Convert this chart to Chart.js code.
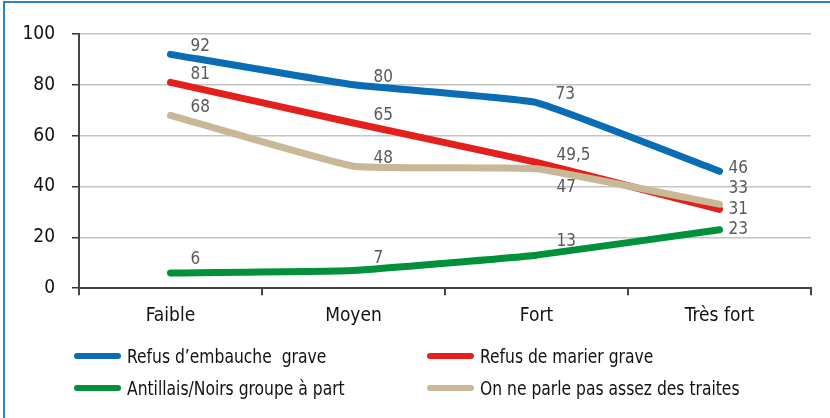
<!DOCTYPE html>
<html>
<head>
<meta charset="utf-8">
<script src="https://cdn.jsdelivr.net/npm/chart.js@4/dist/chart.umd.min.js"></script>
<style>
  html, body { margin: 0; padding: 0; background: #fff; }
  #wrap { position: relative; width: 830px; height: 418px; overflow: hidden; }
  #frame { position: absolute; left: 3px; top: 1px; width: 840px; height: 430px;
           border-top: 2px solid #2b84c6; border-left: 2px solid #2b84c6; }
  canvas { position: absolute; left: 0; top: 0; }
  .leg { position: absolute; font-family: 'DejaVu Sans Condensed', 'Roboto', sans-serif;
         font-size: 19px; color: #111; line-height: 22px; white-space: pre; }
  .leg i { position: absolute; top: 8px; height: 6px; width: 47px; border-radius: 3px; }
  .leg span { display: inline-block; margin-left: 53px; transform: scaleX(0.91); transform-origin: left center; }
</style>
</head>
<body>
<div id="wrap">
  <div id="frame"></div>
  <canvas id="chart" width="830" height="418"></canvas>
  <div id="legend"></div>
</div>
<script>
const categories = ['Faible', 'Moyen', 'Fort', 'Très fort'];
const embauche = [92, 80, 73, 46];
const marier = [81, 65, 49.5, 31];
const antillais = [6, 7, 13, 23];
const traites = [68, 48, 47, 33];
const yTicks = [0, 20, 40, 60, 80, 100];

const FONT = "'DejaVu Sans Condensed', 'Roboto', sans-serif";

// label offsets relative to each point (dx, dy)
const series = [
  { label: 'Refus d\u2019embauche  grave', data: embauche, color: '#0a6cb5', order: 0,
    shift: [[20, -8], [20, -7], [19, -8], [9, -3]] },
  { label: 'Refus de marier grave', data: marier, color: '#e3201b', order: 2,
    shift: [[20, -8], [20, -7], [20, -7], [9, 0]] },
  { label: 'Antillais/Noirs groupe à part', data: antillais, color: '#00913a', order: 3,
    shift: [[20, -13], [20, -12], [20, -14], [9, 0]] },
  { label: 'On ne parle pas assez des traites', data: traites, color: '#c8b898', order: 1,
    shift: [[20, -8], [20, -8], [20, 19], [9, -16]] }
];

const valueLabels = {
  id: 'valueLabels',
  afterDatasetsDraw(chart) {
    const ctx = chart.ctx;
    ctx.save();
    ctx.font = '17px ' + FONT;
    ctx.fillStyle = '#595959';
    ctx.textAlign = 'left';
    ctx.textBaseline = 'middle';
    chart.data.datasets.forEach((ds, di) => {
      const meta = chart.getDatasetMeta(di);
      meta.data.forEach((pt, i) => {
        const [dx, dy] = series[di].shift[i];
        ctx.fillText(String(ds.data[i]).replace('.', ','), pt.x + dx, pt.y + dy);
      });
    });
    ctx.restore();
  }
};

new Chart(document.getElementById('chart'), {
  type: 'line',
  data: {
    labels: categories,
    datasets: series.map(s => ({
      label: s.label,
      data: s.data,
      borderColor: s.color,
      backgroundColor: s.color,
      borderWidth: 7,
      borderCapStyle: 'round',
      borderJoinStyle: 'round',
      pointRadius: 0,
      tension: 0.1,
      order: s.order
    }))
  },
  options: {
    responsive: false,
    animation: false,
    layout: { padding: { left: 0, right: 19, top: 34, bottom: 82 } },
    plugins: { legend: { display: false }, tooltip: { enabled: false } },
    scales: {
      x: {
        offset: true,
        grid: { offset: true, drawOnChartArea: false, tickLength: 7, tickColor: '#444', lineWidth: 2 },
        border: { color: '#444', width: 2 },
        ticks: { color: '#111', font: { family: FONT, size: 19 }, padding: 9 }
      },
      y: {
        min: 0, max: 100,
        afterBuildTicks: axis => { axis.ticks = yTicks.map(v => ({ value: v })); },
        afterFit: axis => { axis.width = 79; },
        grid: { color: '#c4c4c4', lineWidth: 1.5, tickLength: 7, tickColor: '#333' },
        border: { color: '#444', width: 2 },
        ticks: { color: '#111', font: { family: FONT, size: 19 }, padding: 17 }
      }
    }
  },
  plugins: [valueLabels]
});

// legend, two columns
const legendPos = [[74, 345], [427, 345], [74, 377], [427, 377]];
const legendEl = document.getElementById('legend');
series.forEach((s, i) => {
  const d = document.createElement('div');
  d.className = 'leg';
  d.style.left = legendPos[i][0] + 'px';
  d.style.top = legendPos[i][1] + 'px';
  d.innerHTML = `<i style="background:${s.color};left:0"></i><span>${s.label}</span>`;
  legendEl.appendChild(d);
});
</script>
</body>
</html>
